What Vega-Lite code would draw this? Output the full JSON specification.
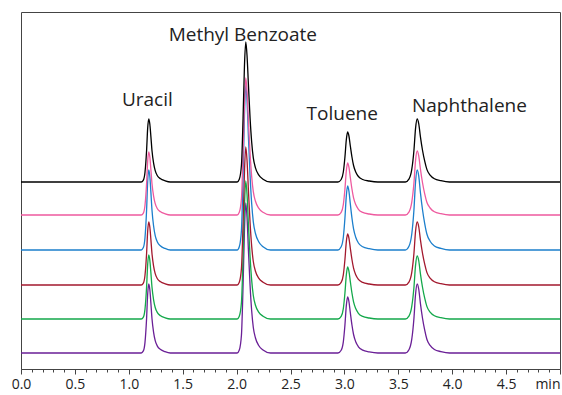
{
  "$schema": "https://vega.github.io/schema/vega-lite/v6.json",
  "width": 539,
  "height": 357,
  "autosize": "none",
  "padding": {"left": 21, "top": 12, "right": 2, "bottom": 26},
  "background": "white",
  "config": {"view": {"stroke": "#444", "strokeWidth": 1}},
  "encoding": {
    "x": {
      "field": "t", "type": "quantitative",
      "scale": {"domain": [0, 5], "nice": false, "zero": false},
      "axis": {
        "title": null,
        "grid": false,
        "values": [0,0.1,0.2,0.3,0.4,0.5,0.6,0.7,0.8,0.9,1,1.1,1.2,1.3,1.4,1.5,1.6,1.7,1.8,1.9,2,2.1,2.2,2.3,2.4,2.5,2.6,2.7,2.8,2.9,3,3.1,3.2,3.3,3.4,3.5,3.6,3.7,3.8,3.9,4,4.1,4.2,4.3,4.4,4.5,4.6,4.7,4.8,4.9,5],
        "labelExpr": "abs(datum.value*2 - round(datum.value*2)) < 0.001 ? (datum.value > 4.99 ? 'min' : format(datum.value, '.1f')) : ''",
        "labelOverlap": false,
        "labelBound": false,
        "labelFlush": false,
        "labelFont": "Open Sans",
        "labelFontSize": 14,
        "labelColor": "#222",
        "labelPadding": 3,
        "labelAlign": {"condition": {"test": "datum.value > 4.99", "value": "right"}, "value": "center"},
        "tickSize": {"condition": {"test": "abs(datum.value*2 - round(datum.value*2)) < 0.001", "value": 5}, "value": 3},
        "tickColor": "#444",
        "domainColor": "#444",
        "tickWidth": 1,
        "domainWidth": 1
      }
    },
    "y": {
      "field": "v", "type": "quantitative",
      "scale": {"domain": [0, 357], "nice": false, "zero": false},
      "axis": null
    }
  },
  "layer": [
    {
      "data": {"values": [
        {"t": 0, "black": 187, "pink": 154, "blue": 119, "red": 84, "green": 50, "purple": 16},
        {"t": 1.115, "black": 187, "pink": 154, "blue": 119, "red": 84, "green": 50, "purple": 16},
        {"t": 1.135, "black": 188.9, "pink": 155.9, "blue": 121.4, "red": 85.9, "green": 51.9, "purple": 18.1},
        {"t": 1.15, "black": 196.5, "pink": 163.5, "blue": 131, "red": 93.5, "green": 59.6, "purple": 26.4},
        {"t": 1.165, "black": 218.5, "pink": 185.5, "blue": 159, "red": 115.5, "green": 82, "purple": 50.5},
        {"t": 1.175, "black": 240.6, "pink": 207.6, "blue": 187, "red": 137.6, "green": 104.4, "purple": 74.7},
        {"t": 1.185, "black": 250, "pink": 217, "blue": 199, "red": 147, "green": 114, "purple": 85},
        {"t": 1.195, "black": 245, "pink": 212, "blue": 192.6, "red": 142, "green": 108.9, "purple": 79.5},
        {"t": 1.205, "black": 232.4, "pink": 199.4, "blue": 176.6, "red": 129.4, "green": 96.1, "purple": 65.7},
        {"t": 1.215, "black": 218.5, "pink": 185.5, "blue": 159, "red": 115.5, "green": 82, "purple": 50.5},
        {"t": 1.23, "black": 205.9, "pink": 172.9, "blue": 143, "red": 102.9, "green": 69.2, "purple": 36.7},
        {"t": 1.245, "black": 198.3, "pink": 165.3, "blue": 133.4, "red": 95.3, "green": 61.5, "purple": 28.4},
        {"t": 1.265, "black": 193.3, "pink": 160.3, "blue": 127, "red": 90.3, "green": 56.4, "purple": 22.9},
        {"t": 1.295, "black": 190.2, "pink": 157.2, "blue": 123, "red": 87.2, "green": 53.2, "purple": 19.5},
        {"t": 1.335, "black": 188.3, "pink": 155.3, "blue": 120.6, "red": 85.3, "green": 51.3, "purple": 17.4},
        {"t": 1.385, "black": 187, "pink": 154, "blue": 119, "red": 84, "green": 50, "purple": 16},
        {"t": 2.005, "black": 187, "pink": 154, "blue": 119, "red": 84, "green": 50, "purple": 16},
        {"t": 2.025, "black": 189.8, "pink": 156.7, "blue": 122.3, "red": 86.8, "green": 52.8, "purple": 19},
        {"t": 2.045, "black": 204, "pink": 170.4, "blue": 138.8, "red": 100.6, "green": 66.6, "purple": 34},
        {"t": 2.06, "black": 250.9, "pink": 215.7, "blue": 193.3, "red": 146.1, "green": 112.1, "purple": 83.5},
        {"t": 2.073, "black": 303.4, "pink": 266.3, "blue": 254.3, "red": 197.2, "green": 163.2, "purple": 139},
        {"t": 2.085, "black": 327, "pink": 291, "blue": 284, "red": 222, "green": 188, "purple": 166},
        {"t": 2.097, "black": 313, "pink": 277.3, "blue": 267.5, "red": 208.2, "green": 174.2, "purple": 151},
        {"t": 2.11, "black": 283.6, "pink": 247.2, "blue": 231.2, "red": 177.8, "green": 143.8, "purple": 118},
        {"t": 2.125, "black": 250.9, "pink": 215.7, "blue": 193.3, "red": 146.1, "green": 112.1, "purple": 83.5},
        {"t": 2.14, "black": 226.8, "pink": 192.4, "blue": 165.2, "red": 122.6, "green": 88.6, "purple": 58},
        {"t": 2.155, "black": 211.1, "pink": 177.3, "blue": 147.1, "red": 107.5, "green": 73.5, "purple": 41.5},
        {"t": 2.175, "black": 201.2, "pink": 167.7, "blue": 135.5, "red": 97.8, "green": 63.8, "purple": 31},
        {"t": 2.205, "black": 194.1, "pink": 160.9, "blue": 127.3, "red": 90.9, "green": 56.9, "purple": 23.5},
        {"t": 2.245, "black": 189.8, "pink": 156.7, "blue": 122.3, "red": 86.8, "green": 52.8, "purple": 19},
        {"t": 2.315, "black": 187, "pink": 154, "blue": 119, "red": 84, "green": 50, "purple": 16},
        {"t": 2.94, "black": 187, "pink": 154, "blue": 119, "red": 84, "green": 50, "purple": 16},
        {"t": 2.97, "black": 189.5, "pink": 156.6, "blue": 122.2, "red": 86.6, "green": 52.6, "purple": 18.8},
        {"t": 2.99, "black": 197, "pink": 164.4, "blue": 131.8, "red": 94.2, "green": 60.4, "purple": 27.2},
        {"t": 3.005, "black": 212, "pink": 180, "blue": 151, "red": 109.5, "green": 76, "purple": 44},
        {"t": 3.018, "black": 229.5, "pink": 198.2, "blue": 173.4, "red": 127.4, "green": 94.2, "purple": 63.6},
        {"t": 3.03, "black": 237, "pink": 206, "blue": 183, "red": 135, "green": 102, "purple": 72},
        {"t": 3.042, "black": 233, "pink": 201.8, "blue": 177.9, "red": 130.9, "green": 97.8, "purple": 67.5},
        {"t": 3.055, "black": 223, "pink": 191.4, "blue": 165.1, "red": 120.7, "green": 87.4, "purple": 56.3},
        {"t": 3.07, "black": 212, "pink": 180, "blue": 151, "red": 109.5, "green": 76, "purple": 44},
        {"t": 3.085, "black": 203.5, "pink": 171.2, "blue": 140.1, "red": 100.8, "green": 67.2, "purple": 34.5},
        {"t": 3.105, "black": 197, "pink": 164.4, "blue": 131.8, "red": 94.2, "green": 60.4, "purple": 27.2},
        {"t": 3.13, "black": 192.5, "pink": 159.7, "blue": 126, "red": 89.6, "green": 55.7, "purple": 22.2},
        {"t": 3.17, "black": 189.5, "pink": 156.6, "blue": 122.2, "red": 86.6, "green": 52.6, "purple": 18.8},
        {"t": 3.23, "black": 188, "pink": 155, "blue": 120.3, "red": 85, "green": 51, "purple": 17.1},
        {"t": 3.31, "black": 187, "pink": 154, "blue": 119, "red": 84, "green": 50, "purple": 16},
        {"t": 3.565, "black": 187, "pink": 154, "blue": 119, "red": 84, "green": 50, "purple": 16},
        {"t": 3.6, "black": 190.2, "pink": 157.2, "blue": 123, "red": 87.2, "green": 53.2, "purple": 19.5},
        {"t": 3.625, "black": 199.6, "pink": 166.8, "blue": 135, "red": 96.6, "green": 62.6, "purple": 29.8},
        {"t": 3.645, "black": 218.5, "pink": 186, "blue": 159, "red": 115.5, "green": 81.5, "purple": 50.5},
        {"t": 3.66, "black": 240.6, "pink": 208.4, "blue": 187, "red": 137.6, "green": 103.6, "purple": 74.7},
        {"t": 3.675, "black": 250, "pink": 218, "blue": 199, "red": 147, "green": 113, "purple": 85},
        {"t": 3.69, "black": 245, "pink": 212.9, "blue": 192.6, "red": 142, "green": 108, "purple": 79.5},
        {"t": 3.705, "black": 232.4, "pink": 200.1, "blue": 176.6, "red": 129.4, "green": 95.4, "purple": 65.7},
        {"t": 3.725, "black": 218.5, "pink": 186, "blue": 159, "red": 115.5, "green": 81.5, "purple": 50.5},
        {"t": 3.745, "black": 207.8, "pink": 175.1, "blue": 145.4, "red": 104.8, "green": 70.8, "purple": 38.8},
        {"t": 3.765, "black": 199.6, "pink": 166.8, "blue": 135, "red": 96.6, "green": 62.6, "purple": 29.8},
        {"t": 3.795, "black": 193.9, "pink": 161, "blue": 127.8, "red": 90.9, "green": 56.9, "purple": 23.6},
        {"t": 3.835, "black": 190.2, "pink": 157.2, "blue": 123, "red": 87.2, "green": 53.2, "purple": 19.5},
        {"t": 3.895, "black": 188.3, "pink": 155.3, "blue": 120.6, "red": 85.3, "green": 51.3, "purple": 17.4},
        {"t": 3.975, "black": 187, "pink": 154, "blue": 119, "red": 84, "green": 50, "purple": 16},
        {"t": 5.0, "black": 187, "pink": 154, "blue": 119, "red": 84, "green": 50, "purple": 16}
      ]},
      "transform": [
        {"fold": ["purple", "green", "red", "blue", "pink", "black"], "as": ["trace", "v"]}
      ],
      "mark": {"type": "line", "strokeWidth": 1.3, "interpolate": "monotone", "clip": true},
      "encoding": {
        "color": {
          "field": "trace", "type": "nominal",
          "scale": {
            "domain": ["purple", "green", "red", "blue", "pink", "black"],
            "range": ["#6a1f96", "#14a84b", "#a3192e", "#1c7fcc", "#ee5a9f", "#000000"]
          },
          "legend": null
        }
      }
    },
    {
      "data": {"values": [
        {"label": "Uracil", "t": 1.172, "v": 263},
        {"label": "Methyl Benzoate", "t": 2.058, "v": 328},
        {"label": "Toluene", "t": 2.98, "v": 249},
        {"label": "Naphthalene", "t": 4.16, "v": 257}
      ]},
      "mark": {"type": "text", "font": "Open Sans", "fontSize": 19, "color": "#222", "baseline": "alphabetic", "align": "center"},
      "encoding": {
        "text": {"field": "label"}
      }
    }
  ]
}
